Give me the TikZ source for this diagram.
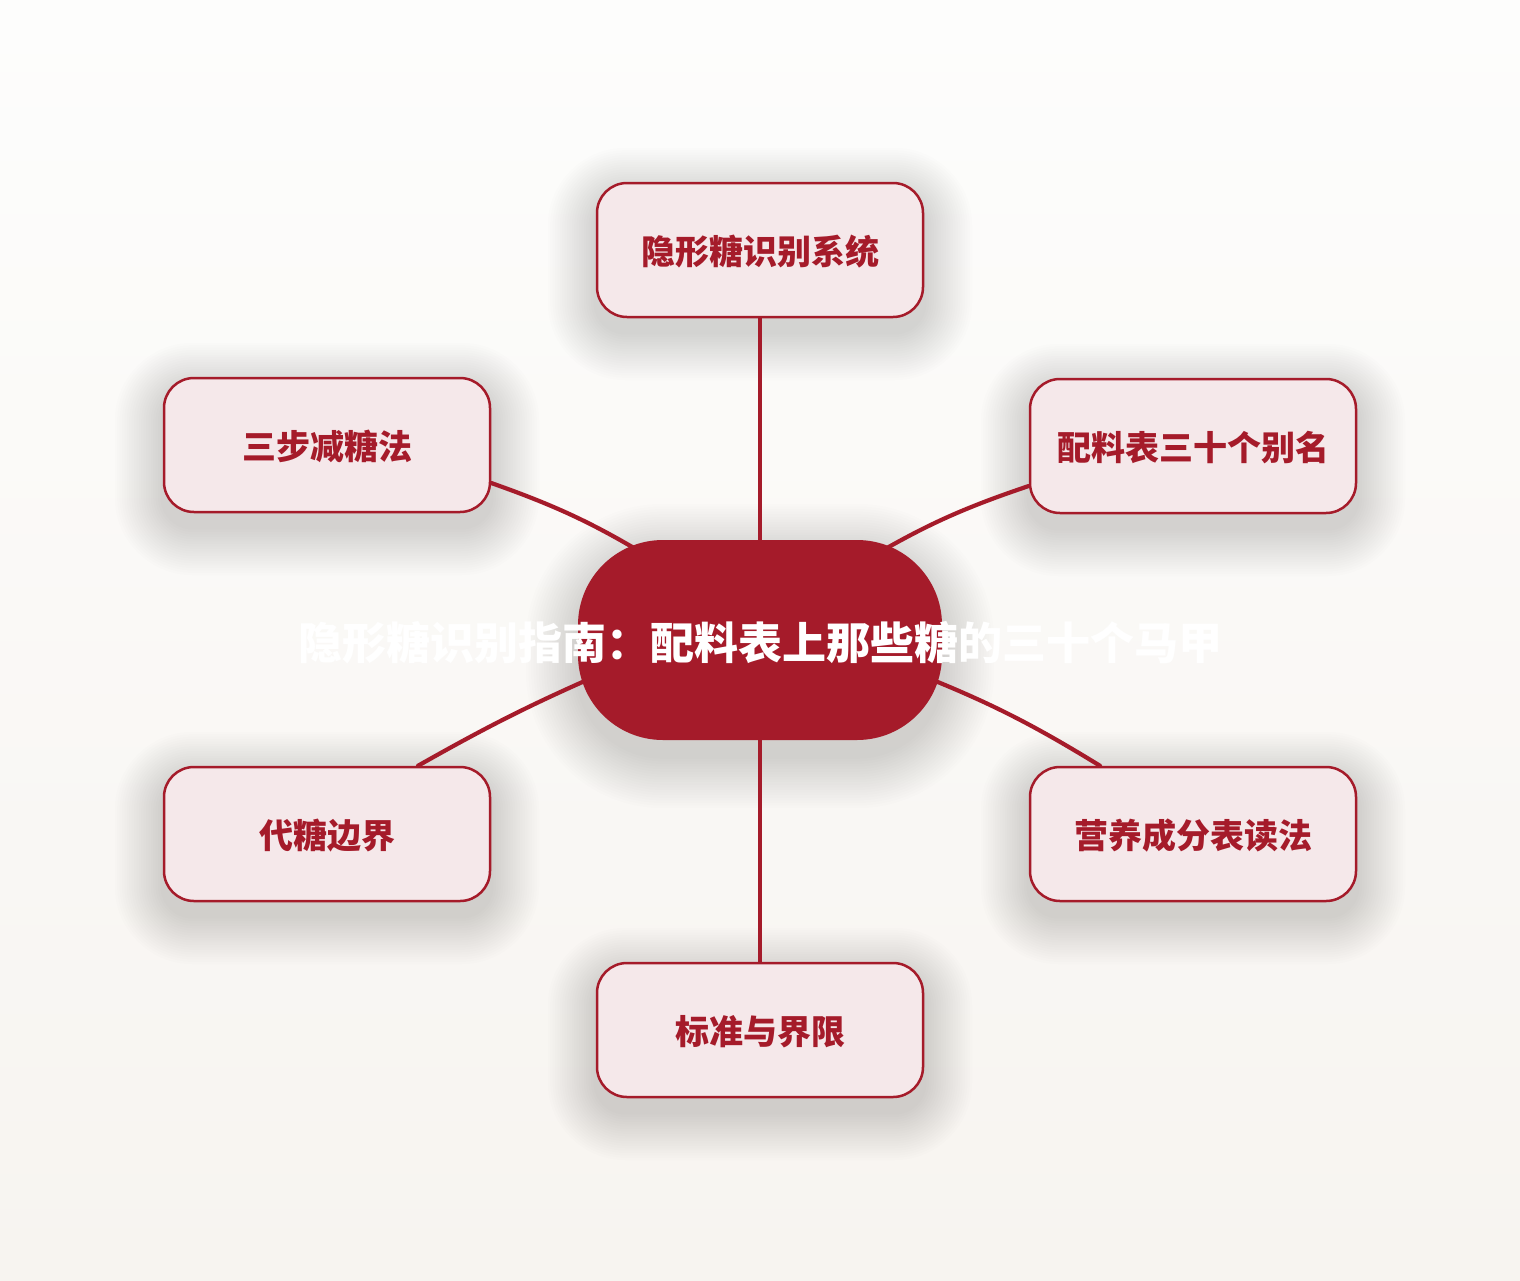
\documentclass[tikz,border=0pt]{standalone}
\usepackage{fontspec}
\newfontfamily\cjk{Noto Sans CJK SC}
\usetikzlibrary{backgrounds}
\definecolor{crim}{HTML}{A51B2A}
\definecolor{boxfill}{HTML}{F5E8EA}
\definecolor{bgtop}{HTML}{FDFDFC}
\definecolor{bgbot}{HTML}{F7F4F0}
\tikzset{
  child/.style={draw=crim, line width=2.5pt, fill=boxfill, rounded corners=30pt,
    minimum width=326pt, minimum height=134pt, inner sep=0pt,
    text=crim, font=\cjk\bfseries\fontsize{34}{40}\selectfont, text depth=-6pt},
  hub/.style={fill=crim, rounded corners=85pt, minimum width=364pt, minimum height=200pt,
    inner sep=0pt},
  hubtext/.style={text=white, font=\cjk\bfseries\fontsize{44}{50}\selectfont},
  link/.style={draw=crim, line width=4.2pt, line cap=round},
  softshadow/.style={fill=black, fill opacity=0.0062}
}
\begin{document}
\begin{tikzpicture}[x=1pt,y=1pt]
\useasboundingbox (0,0) rectangle (1520,-1280);
\node[hub] (c) at (760,-640) {};
\node[child] (t) at (760,-250) {隐形糖识别系统};
\node[child] (lu) at (327,-445) {三步减糖法};
\node[child] (ru) at (1193,-446) {配料表三十个别名};
\node[child] (ll) at (327,-834) {代糖边界};
\node[child] (rl) at (1193,-834) {营养成分表读法};
\node[child] (b) at (760,-1030) {标准与界限};
\begin{scope}[on background layer]
\fill[top color=bgtop, bottom color=bgbot] (0,0) rectangle (1520,-1280);
\foreach \n in {t,lu,ru,ll,rl,b}{
  \foreach \i in {1,...,20}{
    \pgfmathsetmacro\d{\i*2.4}
    \pgfmathsetmacro\r{30+\d}
    \fill[softshadow, rounded corners=\r pt]
      ([shift={(-\d,-14-\d)}]\n.south west) rectangle ([shift={(\d,-14+\d)}]\n.north east);
  }
}
\foreach \i in {1,...,20}{
  \pgfmathsetmacro\d{\i*2.6}
  \pgfmathsetmacro\r{85+\d}
  \fill[softshadow, rounded corners=\r pt]
    ([shift={(-\d,-16-\d)}]c.south west) rectangle ([shift={(\d,-16+\d)}]c.north east);
}
\draw[link] ([yshift=-38]lu.east) to[bend left=6] ([shift={(-101,77)}]c.center);
\draw[link] ([shift={(101,77)}]c.center) to[bend left=6] ([yshift=-40]ru.west);
\draw[link] ([shift={(-148,-29)}]c.center) to[bend right=3] ([xshift=91]ll.north);
\draw[link] ([shift={(148,-30)}]c.center) to[bend left=5] ([xshift=-93]rl.north);
\draw[link] (t.south) -- (c.center);
\draw[link] (c.center) -- (b.north);
\end{scope}
\node[hubtext] (ct) at (760,-643) {隐形糖识别指南：配料表上那些糖的三十个马甲};
\end{tikzpicture}
\end{document}
